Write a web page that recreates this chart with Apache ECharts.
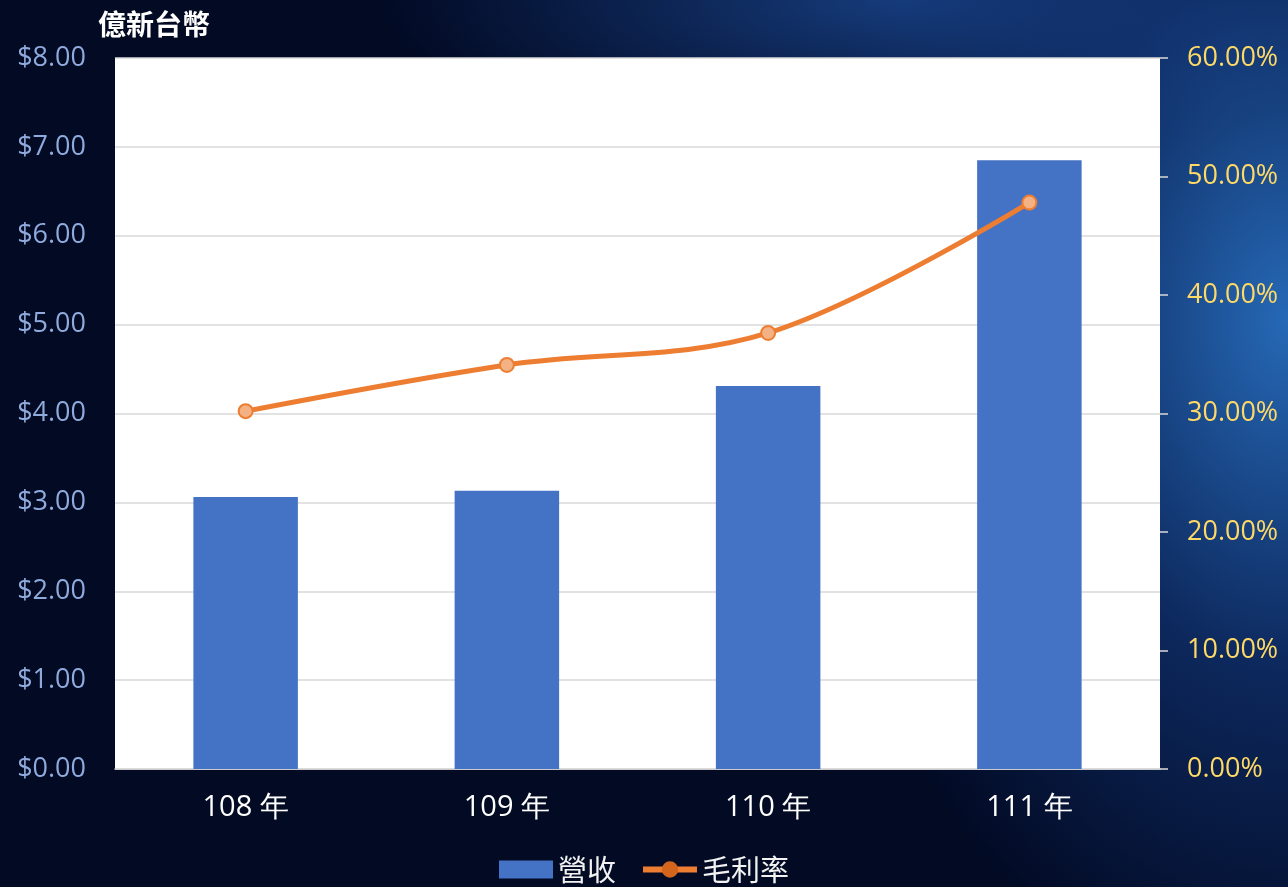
<!DOCTYPE html>
<html><head><meta charset="utf-8">
<script src="https://cdn.jsdelivr.net/npm/echarts@6/dist/echarts.min.js"></script>
<style>
html,body{margin:0;padding:0;width:1288px;height:887px;overflow:hidden;}
body{background:
 radial-gradient(ellipse 480px 700px at 1288px 320px, rgba(40,110,190,0.95), rgba(20,60,130,0.6) 50%, rgba(2,10,36,0) 100%),
 radial-gradient(ellipse 520px 160px at 900px 0px, rgba(30,80,160,0.7), rgba(2,10,36,0) 100%),
 #020a24;}
#c{width:1288px;height:887px;}
</style></head><body>
<div id="c"></div>
<script>
const categories = ['108 年','109 年','110 年','111 年'];
const revenue = [3.06, 3.13, 4.31, 6.85];
const marginPct = [30.2, 34.1, 36.8, 47.8];
const unitLabel = '億新台幣';
const seriesNames = ['營收','毛利率'];

const font = '"Noto Sans CJK TC","Noto Sans",sans-serif';
const numFont = '"Open Sans","Noto Sans",sans-serif';
const chart = echarts.init(document.getElementById('c'));
chart.setOption({
  backgroundColor: 'transparent',
  textStyle: {fontFamily: font},
  title: {text: unitLabel, left: 93, top: 5, textStyle: {color:'#ffffff', fontSize: 28, fontWeight: 'bold', fontFamily: font}},
  grid: {left: 115, right: 128, top: 58, bottom: 118, show: true, backgroundColor: '#ffffff', borderWidth: 0},
  legend: {
    bottom: -2, left: 'center', itemGap: 24, itemWidth: 54, itemHeight: 18,
    textStyle: {color: '#f2f2f2', fontSize: 29, fontFamily: font},
    data: [
      {name: seriesNames[0], icon: 'rect'},
      {name: seriesNames[1], itemStyle: {color: '#d4651c', borderColor: '#d4651c'}, lineStyle: {width: 6, color: '#ed7d31'}}
    ]
  },
  xAxis: {
    type: 'category', data: categories,
    axisLine: {lineStyle: {color: '#d9d9d9', width: 1.5}},
    axisTick: {show: false},
    axisLabel: {color: '#ffffff', fontSize: 29, margin: 24, fontFamily: numFont}
  },
  yAxis: [{
    type: 'value', min: 0, max: 8, interval: 1,
    axisLine: {show: false}, axisTick: {show: false},
    splitLine: {lineStyle: {color: '#d9d9d9', width: 1.5}},
    axisLabel: {color: '#8faadc', fontSize: 27, margin: 29, formatter: v => '$' + v.toFixed(2), fontFamily: numFont}
  },{
    type: 'value', min: 0, max: 60, interval: 10, position: 'right',
    axisLine: {show: false},
    axisTick: {show: true, length: 8, lineStyle: {color: '#d9d9d9', width: 1.5}},
    splitLine: {show: false},
    axisLabel: {color: '#ffd966', fontSize: 27, margin: 27, formatter: v => v.toFixed(2) + '%', fontFamily: numFont}
  }],
  series: [{
    name: seriesNames[0], type: 'bar', data: revenue, barWidth: '40%',
    itemStyle: {color: '#4472c4'}
  },{
    name: seriesNames[1], type: 'line', yAxisIndex: 1, data: marginPct, smooth: 0.35,
    symbol: 'circle', symbolSize: 14,
    lineStyle: {color: '#ed7d31', width: 5},
    itemStyle: {color: '#f4b183', borderColor: '#ed7d31', borderWidth: 2}
  }]
});
</script>
</body></html>
